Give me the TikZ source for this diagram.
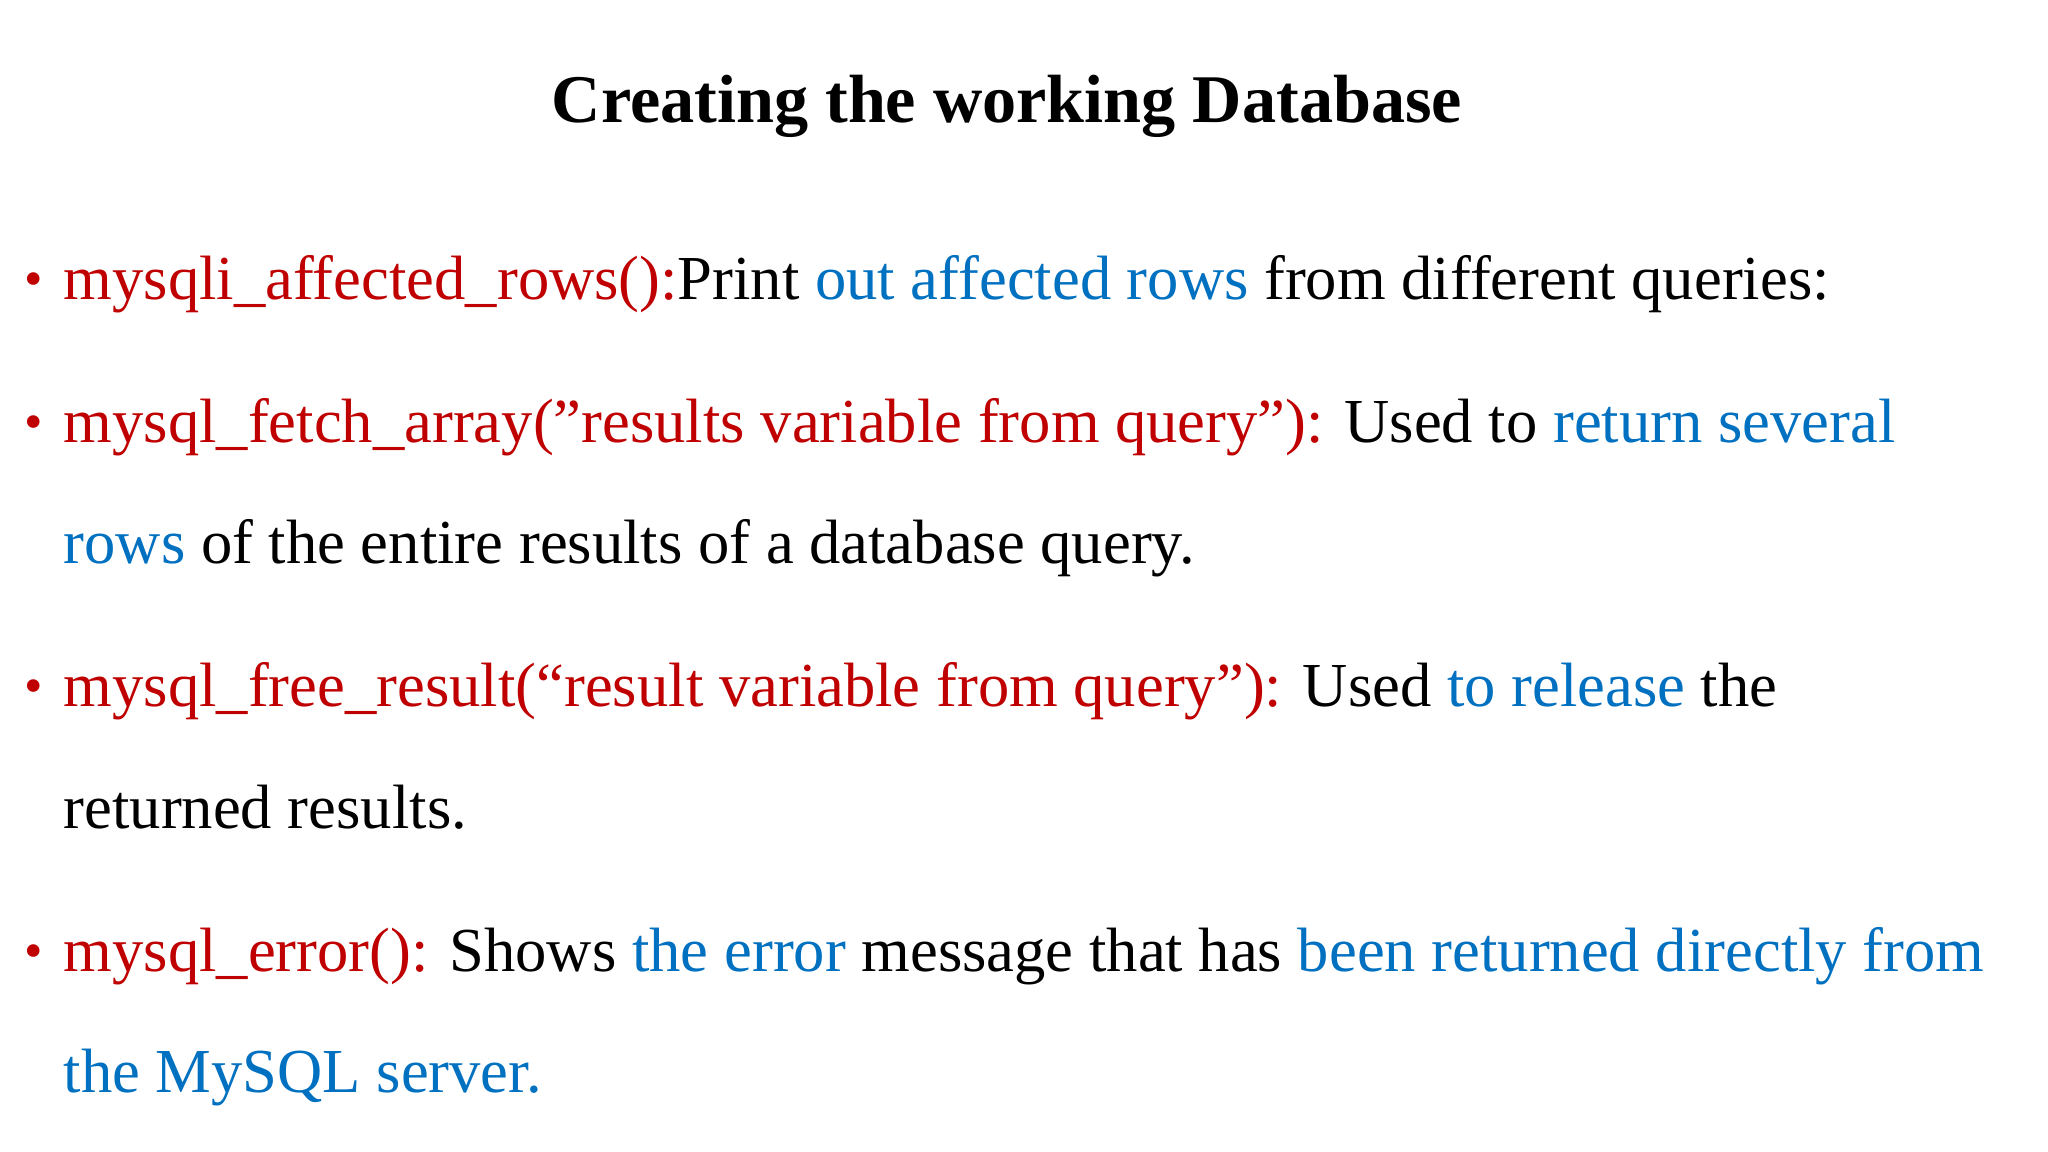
\documentclass[tikz,border=0pt]{standalone}
\usepackage{fontspec}
\defaultfontfeatures{}
\setmainfont{Liberation Serif}
\definecolor{cred}{RGB}{192,0,0}
\definecolor{cblue}{RGB}{0,112,192}
\begin{document}
\begin{tikzpicture}[x=0.01cm,y=0.01cm,
  line/.style={anchor=base west,inner sep=0pt,font=\fontsize{17.8}{21}\selectfont},
  bul/.style={anchor=base west,inner sep=0pt,text=cred,font=\fontsize{15}{19}\selectfont}]
\useasboundingbox (0,0) rectangle (2048,1152);
\fill[white] (0,0) rectangle (2048,1152);
\node[inner sep=0pt,font=\fontsize{19.4}{23}\selectfont\bfseries] (title) at (1007,1046) {Creating the working Database};
\node[bul] (b1) at (24,855) {•};
\node[line] (l1) at (63,852) {\color{cred}mysqli\_affected\_rows():\color{black}Print \color{cblue}out affected rows \color{black}from different queries:};
\node[bul] (b2) at (24,712) {•};
\node[line] (l2) at (63,709) {\color{cred}mysql\_fetch\_array("results variable from query"): \color{black}Used to \color{cblue}return several};
\node[line] (l3) at (63,588) {\color{cblue}rows \color{black}of the entire results of a database query.};
\node[bul] (b3) at (24,448) {•};
\node[line] (l4) at (63,445) {\color{cred}mysql\_free\_result(“result variable from query”): \color{black}Used \color{cblue}to release \color{black}the};
\node[line] (l5) at (63,323) {returned results.};
\node[bul] (b4) at (24,183) {•};
\node[line] (l6) at (63,180) {\color{cred}mysql\_error(): \color{black}Shows \color{cblue}the error \color{black}message that has \color{cblue}been returned directly from};
\node[line,text=cblue] (l7) at (63,59) {the MySQL server.};
\end{tikzpicture}
\end{document}
